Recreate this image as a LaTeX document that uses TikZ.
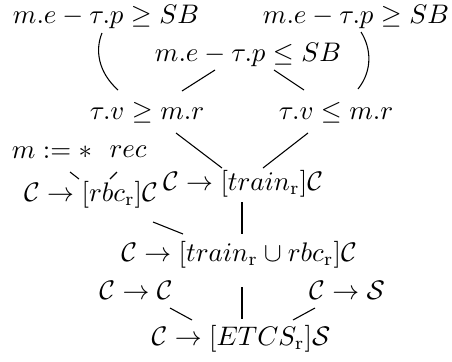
\documentclass[tikz,border=0pt]{standalone}
\usetikzlibrary{calc}
\begin{document}
\begin{tikzpicture}[x=0.3725pt,y=-0.3725pt,
  lbl/.style={inner sep=0pt},
  edge/.style={line width=0.4pt}]
\useasboundingbox (0,0) rectangle (452,361);
% formulas
\node[lbl] (A1) at (106,17) {$m.e-\tau.p\geq SB$};
\node[lbl] (A2) at (356,17) {$m.e-\tau.p\geq SB$};
\node[lbl] (A3) at (248,54.5) {$m.e-\tau.p\leq SB$};
\node[lbl] (B1) at (147,113) {$\tau.v\geq m.r$};
\node[lbl] (B2) at (336,113) {$\tau.v\leq m.r$};
\node[lbl] (C0) at (52,152) {$m:=*$};
\node[lbl] (C0b) at (128,152) {$rec$};
\node[lbl] (C1) at (91,195) {$\mathcal{C}\rightarrow[rbc_{\mathrm{r}}]\mathcal{C}$};
\node[lbl] (C2) at (243,184) {$\mathcal{C}\rightarrow[train_{\mathrm{r}}]\mathcal{C}$};
\node[lbl] (D) at (239,255) {$\mathcal{C}\rightarrow[train_{\mathrm{r}}\cup rbc_{\mathrm{r}}]\mathcal{C}$};
\node[lbl] (E1) at (136,290) {$\mathcal{C}\rightarrow\mathcal{C}$};
\node[lbl] (E2) at (347,290) {$\mathcal{C}\rightarrow\mathcal{S}$};
\node[lbl] (F) at (241,339) {$\mathcal{C}\rightarrow[ETCS_{\mathrm{r}}]\mathcal{S}$};
% connectors
\draw[edge] ($(A1)+(-4,16)$) .. controls +(-7,17) and +(-20,-18) .. ($(B1)+(-29,-23)$);
\draw[edge] ($(A2)+(5,15)$) .. controls +(10,16) and +(15,-19) .. ($(B2)+(22,-24)$);
\draw[edge] ($(A3)+(-33,15.5)$) -- ($(B1)+(35,-22)$);
\draw[edge] ($(A3)+(26,15.5)$) -- ($(B2)+(-32,-23)$);
\draw[edge] ($(B1)+(29,20)$) -- ($(C2)+(-21,-16)$);
\draw[edge] ($(B2)+(-28,20)$) -- ($(C2)+(20,-16)$);
\draw[edge] ($(C0)+(18,20)$) -- ($(C1)+(-12,-16)$);
\draw[edge] ($(C0b)+(-11,20)$) -- ($(C1)+(19,-16)$);
\draw[edge] ($(C1)+(62,27)$) -- ($(D)+(-56,-21)$);
\draw[edge] ($(C2)+(-1,18)$) -- ($(D)+(3,-21)$);
\draw[edge] ($(E1)+(34,18)$) -- ($(F)+(-49,-19)$);
\draw[edge] ($(D)+(3,32)$) -- ($(F)+(1,-20)$);
\draw[edge] ($(E2)+(-32,18)$) -- ($(F)+(52,-19)$);
\end{tikzpicture}
\end{document}
